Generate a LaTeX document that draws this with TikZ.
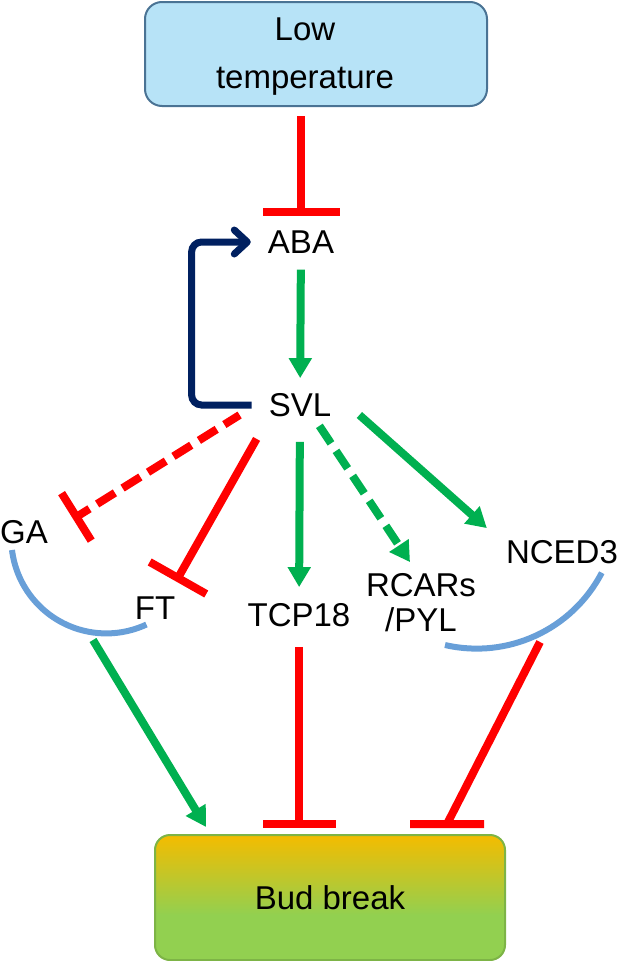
\documentclass[tikz,border=0pt]{standalone}
\usepackage{fontspec}
\setmainfont{Liberation Sans}
\usepackage{xcolor}
\usetikzlibrary{arrows.meta}

\definecolor{inhred}{RGB}{255,0,0}
\definecolor{actgreen}{RGB}{0,176,80}
\definecolor{loopnavy}{RGB}{0,32,96}
\definecolor{arcblue}{RGB}{104,159,216}
\definecolor{coldfill}{RGB}{183,227,247}
\definecolor{coldline}{RGB}{74,115,148}
\definecolor{budtop}{RGB}{244,188,0}
\definecolor{budbot}{RGB}{146,208,80}
\definecolor{budline}{RGB}{125,180,70}
\pgfdeclareverticalshading{budshade}{100bp}{color(0bp)=(budbot); color(25bp)=(budbot); color(43bp)=(budbot); color(75bp)=(budtop); color(100bp)=(budtop)}

\tikzset{
  lbl/.style={inner sep=2pt, font=\fontsize{33}{35}\selectfont},
  act/.style={draw=actgreen, line width=8pt, -{Triangle[width=22pt,length=20pt]}},
  actdash/.style={act, dash pattern=on 21pt off 9pt},
  inh/.style={draw=inhred, line width=8pt, -{Bar[width=#1]}},
  inhdash/.style={inh=#1, dash pattern=on 21pt off 9pt},
  inhline/.style={draw=inhred, line width=8pt},
  feedback/.style={draw=loopnavy, line width=7pt, rounded corners=10pt, -{Straight Barb[round,length=13pt,width=24pt]}},
  group/.style={draw=arcblue, line width=6pt},
}

\begin{document}
\begin{tikzpicture}[x=1pt,y=1pt,yscale=-1,xscale=1]
\useasboundingbox (0,0) rectangle (618,961);

%Shape: Rounded Rect
\node[draw=coldline, line width=2pt, fill=coldfill, rounded corners=17pt, minimum width=342pt, minimum height=104pt] (cold) at (316,54) {};
% Text Node
\node[lbl, align=center, font=\fontsize{33}{48}\selectfont] (coldtext) at (305,57) {Low\\temperature};
%Shape: Rounded Rect
\node[lbl, draw=budline, line width=2pt, shade, shading=budshade, rounded corners=15pt, minimum width=350pt, minimum height=125pt] (bud) at (330,897.5) {Bud break};

% Text Node
\node[lbl] (aba) at (301,242) {ABA};
% Text Node
\node[lbl] (svl) at (300,405) {SVL};
% Text Node
\node[lbl] (ga) at (24,532) {GA};
% Text Node
\node[lbl] (ft) at (155,608) {FT};
% Text Node
\node[lbl] (tcp) at (299,615) {TCP18};
% Text Node
\node[lbl, align=center] (rcar) at (421,602.5) {RCARs\\/PYL};
% Text Node
\node[lbl] (nced) at (562,552) {NCED3};

%Shape: Arc
\draw[group] (12,550) arc[start angle=173, end angle=65, radius=95];
%Shape: Arc
\draw[group] (445,645) arc[start angle=103, end angle=27.5, radius=141];
\coordinate (gaft) at (93,640);
\coordinate (rcnced) at (540,642);

%Straight Lines
\draw[inh=77pt, shorten <=9pt, shorten >=12pt] (cold.south -| aba) -- (aba.north);
\draw[act, shorten <=14pt, shorten >=13pt] (aba) -- (svl);
\draw[feedback, shorten <=15pt, shorten >=15pt] (svl.west) -- ++(-75,0) |- (aba.west);

\draw[inhdash=56pt, dash phase=3pt] ([xshift=-27pt,yshift=10pt]svl.west) -- ([xshift=23pt,yshift=-13pt]ga.east);
\draw[inh=65pt] ([xshift=-10pt,yshift=20pt]svl.south west) -- ([xshift=21pt,yshift=-13pt]ft.north);
\draw[act, shorten <=23pt, shorten >=14pt] (svl) -- (tcp);
\draw[actdash] ([xshift=-14pt,yshift=7pt]svl.south east) -- ([xshift=-11pt,yshift=-9pt]rcar.north);
\draw[act] ([xshift=26pt,yshift=10pt]svl.east) -- ([xshift=-17pt,yshift=-10pt]nced.north west);

\draw[act] (gaft) -- ([xshift=52pt,yshift=-7pt]bud.north west);
\draw[inh=73pt, shorten <=18pt, shorten >=6pt] (tcp.south) -- (tcp.south |- bud.north);
\draw[inhline] (rcnced) -- ([xshift=-59pt,yshift=-10pt]bud.north east) ++(-37,0) -- ++(74,0);

\end{tikzpicture}
\end{document}
